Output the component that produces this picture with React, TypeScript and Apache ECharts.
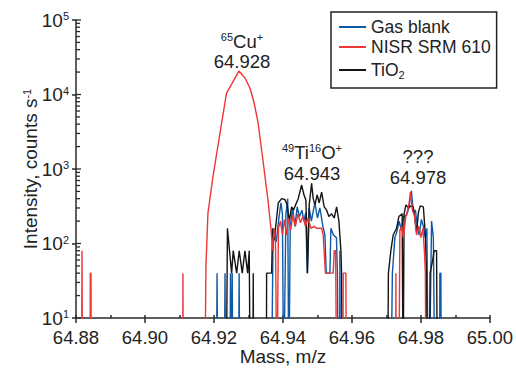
import { useEffect, useRef } from 'react';
import * as echarts from 'echarts';

const FONT = "'Liberation Sans', Arial, sans-serif";
const TEXT = '#222222';
const AXIS = '#2a2a2a';

const SERIES_NAMES = ['Gas blank', 'NISR SRM 610', 'TiO2'];
const SERIES_COLORS = ['#0d5aa7', '#ee3636', '#151515'];

const X_MIN = 64.88;
const X_MAX = 65.0;
const X_STEP = 0.02;
const Y_MIN = 10;
const Y_MAX = 100000;
const Y_MAJOR = [10, 100, 1000, 10000, 100000];
const Y_MINOR = [20, 30, 40, 50, 60, 70, 80, 90, 200, 300, 400, 500, 600, 700, 800, 900,
  2000, 3000, 4000, 5000, 6000, 7000, 8000, 9000, 20000, 30000, 40000, 50000, 60000, 70000, 80000, 90000];

// Z = zero counts (drawn below the 10^1 floor of the log axis)
const Z = 1;

const gasBlank: [number, number][] = [
  [64.88, Z],
  [64.9207, Z], [64.9209, 40], [64.9211, Z],
  [64.9230, Z], [64.9232, 40], [64.9234, Z],
  [64.9246, Z], [64.9248, 40], [64.9250, Z],
  [64.9251, Z], [64.9253, 40], [64.9255, Z],
  [64.9271, Z], [64.9273, 40], [64.9275, Z],
  [64.93667, Z], [64.93710, 80], [64.93748, 160], [64.93806, 105], [64.93884, 220],
  [64.93942, 350], [64.93986, 250], [64.94020, Z], [64.94087, 250], [64.94139, 400],
  [64.94171, Z], [64.94212, 170], [64.94281, 300], [64.94348, 170], [64.94414, 310],
  [64.94478, 230], [64.94551, 280], [64.94609, 200], [64.94661, 260], [64.94704, 40],
  [64.94762, 300], [64.94826, 200], [64.94870, 260], [64.94928, 350], [64.95000, 220],
  [64.95072, 300], [64.95159, 170], [64.95217, 130], [64.95255, 40], [64.95362, 40],
  [64.95391, 160], [64.95464, 130], [64.95551, 120], [64.95580, 40], [64.95603, Z],
  [64.95643, Z], [64.95652, 80], [64.95664, Z],
  [64.97130, Z], [64.97174, 40], [64.97246, 120], [64.97296, 140], [64.97371, 200],
  [64.97435, 150], [64.97493, 230], [64.97586, 240], [64.97652, 300], [64.97725, 510],
  [64.97783, 260], [64.97841, 280], [64.97899, 170], [64.97951, 130], [64.98014, 210],
  [64.98072, 170], [64.98125, 120], [64.98174, 160], [64.98212, Z], [64.98241, Z],
  [64.98310, 200], [64.98362, 120], [64.98406, Z], [64.98542, Z], [64.98551, 40],
  [64.98580, 40], [64.98591, Z],
  [65.0, Z],
];

const srm610: [number, number][] = [
  [64.88, Z],
  [64.88159, Z], [64.88174, 80], [64.88188, Z],
  [64.88406, Z], [64.88414, 40], [64.88435, 40], [64.88443, Z],
  [64.91093, Z], [64.91101, 40], [64.91110, Z],
  [64.91733, Z], [64.91768, 50], [64.91826, 256], [64.91971, 790], [64.92362, 10380],
  [64.92725, 20650], [64.92899, 16630], [64.93043, 12220], [64.93159, 7930],
  [64.93275, 4280], [64.93420, 1320], [64.93565, 384], [64.93652, 161],
  [64.93704, 80], [64.93745, 160], [64.93783, 120], [64.93826, Z], [64.93870, 160],
  [64.93928, 200], [64.93986, 130], [64.94043, 210], [64.94101, 130], [64.94159, 220],
  [64.94223, 150], [64.94290, 240], [64.94362, 170], [64.94435, 250], [64.94507, 190],
  [64.94580, 230], [64.94652, 170], [64.94725, 220], [64.94812, 160], [64.94899, 170],
  [64.94986, 160], [64.95122, 160], [64.95168, 130], [64.95232, 40], [64.95458, 40],
  [64.95487, 80], [64.95528, 80], [64.95557, Z], [64.95739, Z], [64.95748, 40],
  [64.95826, 40], [64.95835, Z],
  [64.97267, Z], [64.97275, 40], [64.97284, Z],
  [64.97362, Z], [64.97391, 150], [64.97449, 170], [64.97487, 120], [64.97565, 230],
  [64.97652, 330], [64.97696, 490], [64.97754, 280], [64.97812, 240], [64.97875, 130],
  [64.97942, 170], [64.98000, 120], [64.98058, 160], [64.98101, 80], [64.98130, 40],
  [64.98145, Z],
  [65.0, Z],
];

const tio2: [number, number][] = [
  [64.88, Z],
  [64.92357, Z], [64.92391, 160], [64.92513, 40], [64.92559, 80], [64.92658, 40],
  [64.92733, 80], [64.92820, 40], [64.92899, 80], [64.92977, 40], [64.93023, 80],
  [64.93052, Z], [64.93128, Z], [64.93139, 40], [64.93151, Z],
  [64.93519, Z], [64.93527, 40], [64.93672, 40], [64.93701, 160], [64.93748, 110],
  [64.93797, 180], [64.93864, 350], [64.93962, 400], [64.94058, 390], [64.94125, 330],
  [64.94183, 200], [64.94252, 310], [64.94304, 280], [64.94368, 330], [64.94443, 400],
  [64.94542, 610], [64.94609, 450], [64.94667, 380], [64.94713, 40], [64.94762, 330],
  [64.94832, 640], [64.94878, 400], [64.94928, 330], [64.94994, 450], [64.95052, 350],
  [64.95122, 490], [64.95197, 310], [64.95267, 280], [64.95333, 230], [64.95412, 250],
  [64.95487, 220], [64.95557, 310], [64.95623, 200], [64.95681, 80], [64.95701, 40],
  [64.95719, Z],
  [64.97038, Z], [64.97058, 40], [64.97130, 80], [64.97197, 130], [64.97296, 160],
  [64.97362, 230], [64.97458, 250], [64.97484, Z], [64.97513, 250], [64.97565, 330],
  [64.97638, 300], [64.97710, 320], [64.97777, 310], [64.97820, 230], [64.97875, 140],
  [64.97928, 260], [64.97980, 320], [64.98072, 310], [64.98130, 130], [64.98165, 40],
  [64.98183, Z], [64.98249, Z], [64.98267, 40], [64.98342, 60], [64.98385, 80],
  [64.98455, 80], [64.98478, Z],
  [65.0, Z],
];

const ANNOTATIONS = [
  { species: '{s|65}{t|Cu}{s|+}', mass: '64.928', x: 242, y1: 41, y2: 61 },
  { species: '{s|49}{t|Ti}{s|16}{t|O}{s|+}', mass: '64.943', x: 312, y1: 152, y2: 173 },
  { species: '{t|???}', mass: '64.978', x: 418, y1: 156, y2: 177 },
];

const ANN_SIZE = 18.5;
const supRich = {
  t: { fontSize: ANN_SIZE, fontFamily: FONT, color: TEXT, lineHeight: 19 },
  s: { fontSize: 11, fontFamily: FONT, color: TEXT, lineHeight: 13, verticalAlign: 'top' },
};

export default function App() {
  const ref = useRef<HTMLDivElement>(null);
  useEffect(() => {
    if (!ref.current) return;
    const chart = echarts.init(ref.current, null, { renderer: 'svg' });

    const tickData = [
      ...Y_MAJOR.map((v) => [X_MIN, v, 5]),
      ...Y_MINOR.map((v) => [X_MIN, v, 4]),
    ];

    // same order as SERIES_NAMES
    const seriesData = [gasBlank, srm610, tio2];
    // drawing order: blue first, then black, red on top
    const order = [0, 2, 1];

    const graphic: any[] = [];
    ANNOTATIONS.forEach((a) => {
      graphic.push({
        type: 'text', x: a.x, y: a.y1,
        style: {
          text: a.species, rich: supRich, fill: TEXT, font: `${ANN_SIZE}px ${FONT}`,
          align: 'center', textAlign: 'center', verticalAlign: 'middle', textVerticalAlign: 'middle',
        },
      });
      graphic.push({
        type: 'text', x: a.x, y: a.y2,
        style: {
          text: a.mass, fill: TEXT, font: `${ANN_SIZE}px ${FONT}`,
          align: 'center', textAlign: 'center', verticalAlign: 'middle', textVerticalAlign: 'middle',
        },
      });
    });

    chart.setOption({
      animation: false,
      backgroundColor: '#ffffff',
      grid: { left: 76, right: 26, top: 20, bottom: 53, containLabel: false },
      legend: {
        data: SERIES_NAMES,
        orient: 'vertical',
        left: 331,
        top: 12,
        padding: [5, 6, 8, 8],
        itemGap: 0,
        itemWidth: 27,
        itemHeight: 2,
        icon: 'rect',
        borderColor: '#222',
        borderWidth: 1.5,
        backgroundColor: '#fff',
        formatter: (name: string) => (name === 'TiO2' ? '{t|TiO}{sub|2}' : name),
        textStyle: {
          fontSize: 17.5, fontFamily: FONT, color: TEXT, lineHeight: 20,
          rich: {
            t: { fontSize: 17.5, fontFamily: FONT, color: TEXT, lineHeight: 20 },
            sub: { fontSize: 11, fontFamily: FONT, color: TEXT, lineHeight: 11, verticalAlign: 'bottom', padding: [12, 0, 0, 0] },
          },
        },
      },
      xAxis: [
        {
          type: 'value', min: X_MIN, max: X_MAX, interval: X_STEP, position: 'bottom',
          name: 'Mass, m/z', nameLocation: 'middle', nameGap: 29, nameMoveOverlap: false,
          nameTextStyle: { fontSize: 19, fontFamily: FONT, color: TEXT },
          axisLine: { show: true, lineStyle: { color: AXIS, width: 1.5 } },
          axisTick: { show: true, inside: false, length: 5, lineStyle: { color: AXIS, width: 1.5 } },
          axisLabel: {
            fontSize: 18.5, fontFamily: FONT, color: TEXT, margin: 10,
            formatter: (v: number) => v.toFixed(2),
          },
          splitLine: { show: false },
        },
        {
          type: 'value', min: X_MIN, max: X_MAX, interval: X_STEP, position: 'bottom',
          axisLine: { show: false },
          axisTick: { show: true, inside: true, length: 3, lineStyle: { color: AXIS, width: 1.5 } },
          minorTick: { show: true, splitNumber: 2, length: 3, lineStyle: { color: AXIS, width: 1.5 } },
          axisLabel: { show: false },
          splitLine: { show: false },
        },
      ],
      yAxis: {
        type: 'log', logBase: 10, min: Y_MIN, max: Y_MAX,
        name: 'Intensity, counts s{e|-1}', nameLocation: 'middle', nameGap: 36, nameMoveOverlap: false,
        nameTextStyle: {
          fontSize: 19, fontFamily: FONT, color: TEXT, lineHeight: 19,
          rich: { e: { fontSize: 11, fontFamily: FONT, color: TEXT, lineHeight: 13, verticalAlign: 'top' } },
        },
        axisLine: { show: true, lineStyle: { color: AXIS, width: 1.5 } },
        axisTick: { show: true, inside: false, length: 4, lineStyle: { color: AXIS, width: 1.5 } },
        axisLabel: {
          margin: 7,
          formatter: (v: number) => `{b|10}{e|${Math.round(Math.log10(v))}}`,
          rich: {
            b: { fontSize: 19, fontFamily: FONT, color: TEXT, lineHeight: 19 },
            e: { fontSize: 11, fontFamily: FONT, color: TEXT, lineHeight: 13, verticalAlign: 'top' },
          },
        },
        splitLine: { show: false },
        minorSplitLine: { show: false },
      },
      series: [
        ...order.map((i) => ({
          name: SERIES_NAMES[i],
          type: 'line',
          data: seriesData[i],
          showSymbol: false,
          symbol: 'none',
          clip: true,
          color: SERIES_COLORS[i],
          lineStyle: { color: SERIES_COLORS[i], width: 1.4 },
          emphasis: { disabled: true },
          xAxisIndex: 0,
        })),
        {
          name: 'ticks',
          type: 'custom',
          xAxisIndex: 0,
          clip: false,
          silent: true,
          data: tickData,
          renderItem: (_p: any, api: any) => {
            const pt = api.coord([api.value(0), api.value(1)]);
            const len = api.value(2);
            return {
              type: 'line',
              shape: { x1: pt[0], y1: pt[1], x2: pt[0] + len, y2: pt[1] },
              style: { stroke: AXIS, lineWidth: 1.3 },
            };
          },
        },
      ],
      graphic,
    });
    return () => chart.dispose();
  }, []);
  return <div ref={ref} style={{ width: 516, height: 371, position: 'absolute', left: 0, top: 0 }} />;
}
